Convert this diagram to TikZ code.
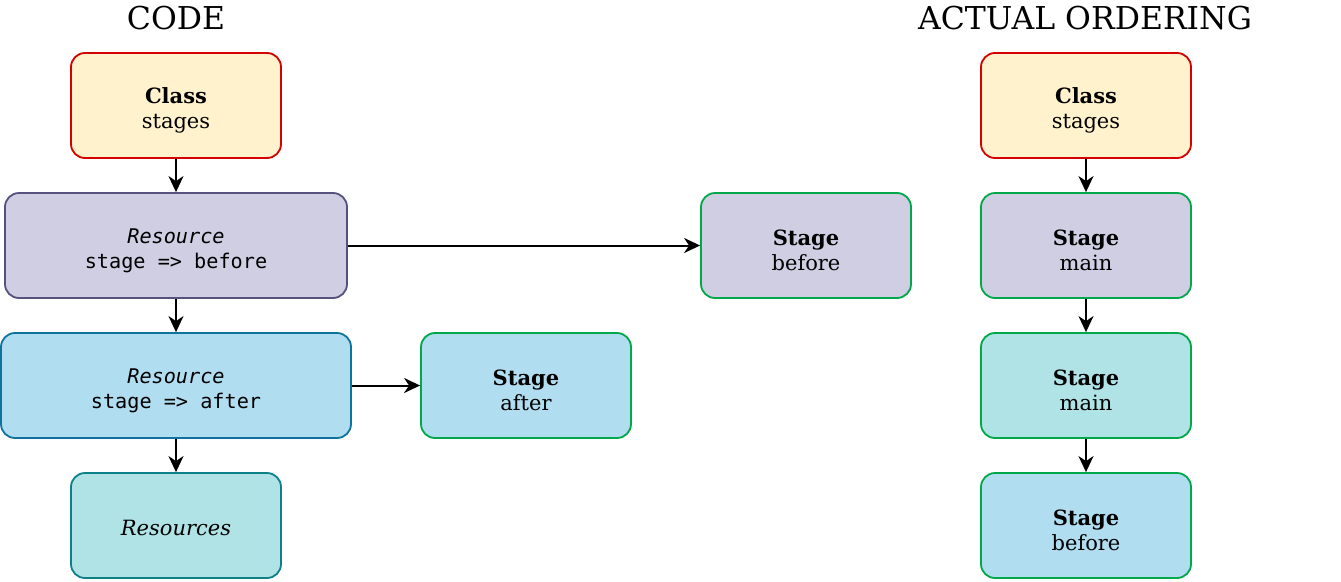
\documentclass[tikz,border=0pt]{standalone}
\usepackage{fontspec}
\setmainfont{DejaVu Serif}
\setmonofont{DejaVu Sans Mono}
\usetikzlibrary{arrows.meta}
\definecolor{yfill}{HTML}{FFF2CC}
\definecolor{ystroke}{HTML}{D50000}
\definecolor{pfill}{HTML}{D0CEE2}
\definecolor{pstroke}{HTML}{56517E}
\definecolor{bfill}{HTML}{B1DDF0}
\definecolor{bstroke}{HTML}{10739E}
\definecolor{tfill}{HTML}{B0E3E6}
\definecolor{tstroke}{HTML}{0E8088}
\definecolor{gstroke}{HTML}{00A84A}
\newcommand{\codefont}{\ttfamily\fontsize{20.2}{25}\selectfont}
\tikzset{
  box/.style={draw, line width=1.8pt, rounded corners=14pt, minimum height=105pt,
    inner sep=0pt},
  txt/.style={align=center, inner sep=0pt, yshift=-5pt, font=\fontsize{21}{25}\selectfont},
  narrow/.style={box, minimum width=210pt},
  ybox/.style={narrow, fill=yfill, draw=ystroke},
  title/.style={font=\fontsize{31.5}{36}\selectfont, inner sep=0pt},
  conn/.style={line width=2pt, -{Stealth[length=16pt,width=15pt,inset=5pt]}}
}
\begin{document}
\begin{tikzpicture}[x=1pt,y=-1pt]
\useasboundingbox (0,0) rectangle (1341,581);
\node[title] (t1) at (176,18) {CODE};
\node[title] (t2) at (1085,18) {ACTUAL ORDERING};

\node[ybox] (c1) at (176,105.5) {};
\node[box, minimum width=342pt, fill=pfill, draw=pstroke] (r1) at (176,245.5) {};
\node[box, minimum width=350pt, fill=bfill, draw=bstroke] (r2) at (176,385.5) {};
\node[narrow, fill=tfill, draw=tstroke] (rs) at (176,525.5) {};
\node[narrow, fill=pfill, draw=gstroke] (sb) at (806,245.5) {};
\node[narrow, fill=bfill, draw=gstroke] (sa) at (526,385.5) {};
\node[ybox] (c2) at (1086,105.5) {};
\node[narrow, fill=pfill, draw=gstroke] (m1) at (1086,245.5) {};
\node[narrow, fill=tfill, draw=gstroke] (m2) at (1086,385.5) {};
\node[narrow, fill=bfill, draw=gstroke] (b2) at (1086,525.5) {};

\node[txt] (c1t) at (c1.center) {\textbf{Class}\\stages};
\node[txt] (r1t) at (r1.center) {\codefont\textit{Resource}\\\codefont stage => before};
\node[txt] (r2t) at (r2.center) {\codefont\textit{Resource}\\\codefont stage => after};
\node[txt, yshift=3pt] (rst) at (rs.center) {\textit{Resources}};
\node[txt] (sbt) at (sb.center) {\textbf{Stage}\\before};
\node[txt] (sat) at (sa.center) {\textbf{Stage}\\after};
\node[txt] (c2t) at (c2.center) {\textbf{Class}\\stages};
\node[txt] (m1t) at (m1.center) {\textbf{Stage}\\main};
\node[txt] (m2t) at (m2.center) {\textbf{Stage}\\main};
\node[txt] (b2t) at (b2.center) {\textbf{Stage}\\before};

\draw[conn] (c1) -- (r1);
\draw[conn] (r1) -- (r2);
\draw[conn] (r2) -- (rs);
\draw[conn] (r1) -- (sb);
\draw[conn] (r2) -- (sa);
\draw[conn] (c2) -- (m1);
\draw[conn] (m1) -- (m2);
\draw[conn] (m2) -- (b2);
\end{tikzpicture}
\end{document}
